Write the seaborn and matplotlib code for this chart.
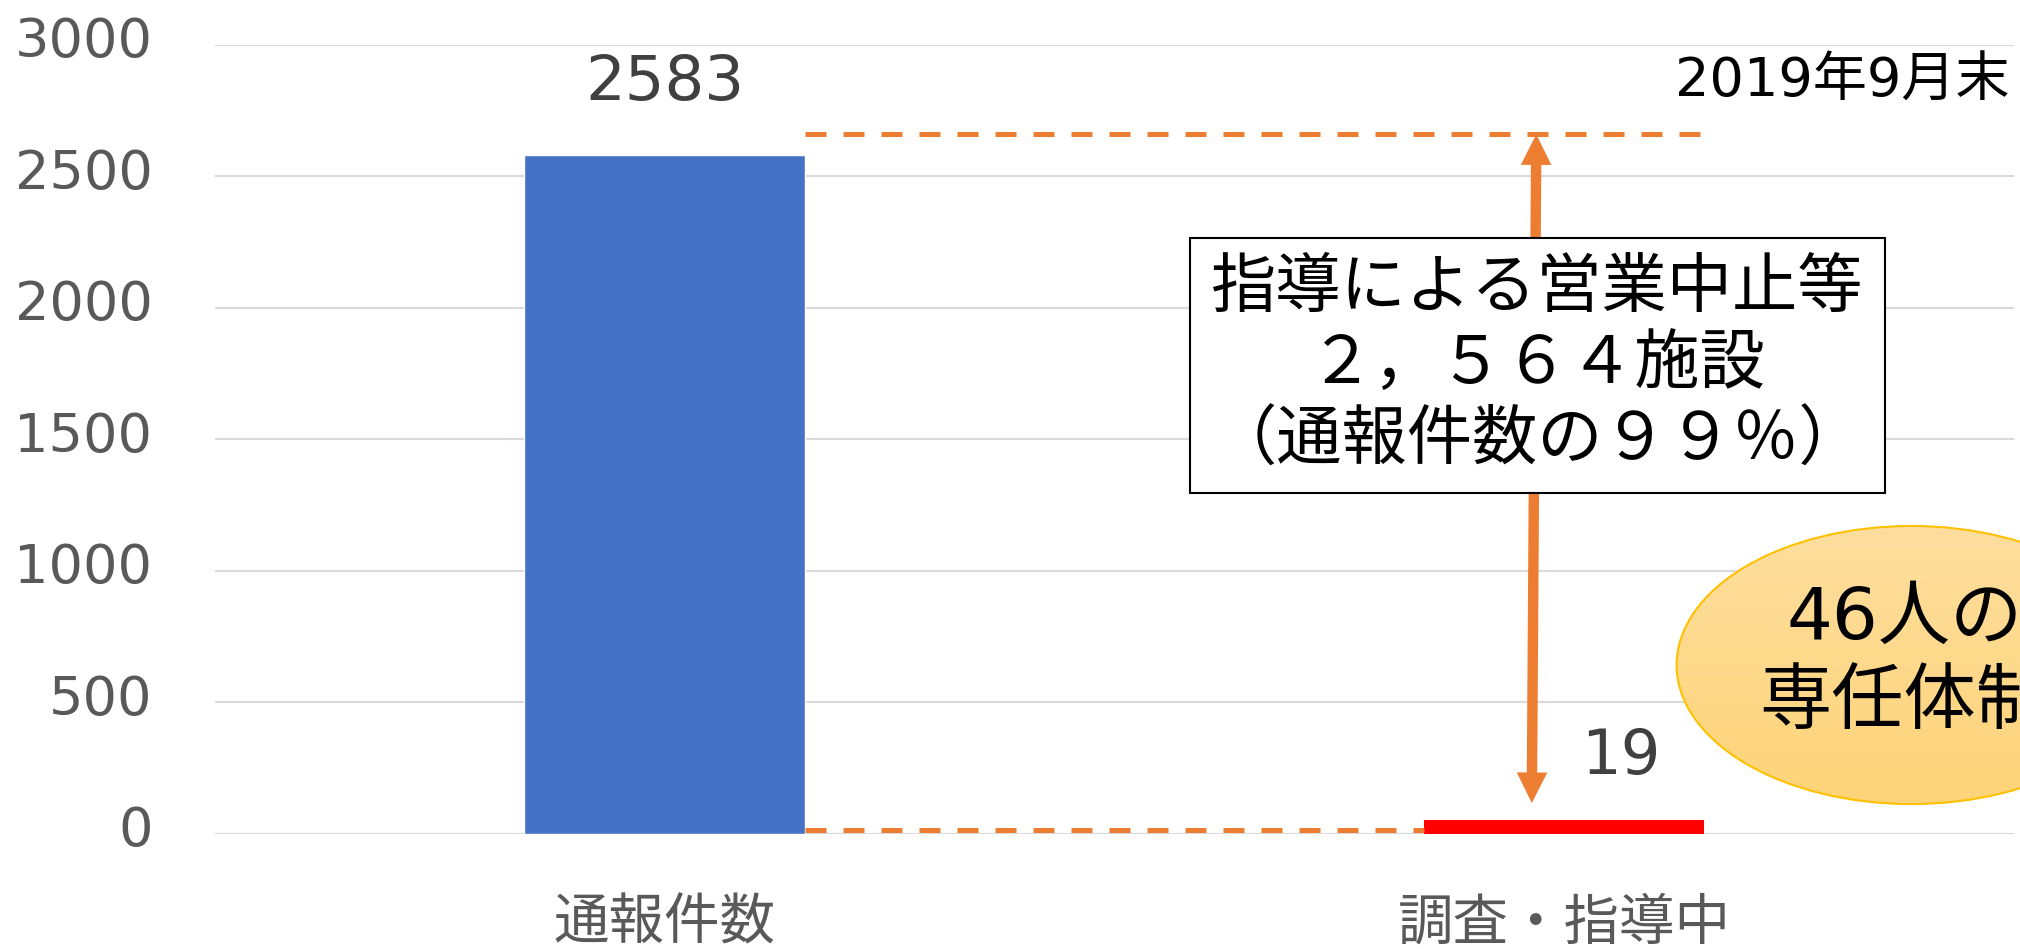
import numpy as np
import matplotlib
matplotlib.use("Agg")
import matplotlib.pyplot as plt
import matplotlib.patches as mpatches
from matplotlib.colors import LinearSegmentedColormap
from matplotlib.transforms import ScaledTranslation
import seaborn as sns

# data
categories = ["通報件数", "調査・指導中"]
counts = [2583, 19]
bar_colors = ["#4472C4", "#FF0000"]
yticks = [0, 500, 1000, 1500, 2000, 2500, 3000]

date_note = "2019年9月末"
box_note = "指導による営業中止等\n２，５６４施設\n（通報件数の９９％）"
bubble_note = "46人の\n専任体制"

sns.set_theme(style="white")
plt.rcParams["font.family"] = ["DejaVu Sans", "Noto Sans CJK JP"]

W, H, DPI = 20.2, 9.49, 100
ax_rect = [0.1064, 0.1217, 0.8906, 0.8309]
fig = plt.figure(figsize=(W, H), dpi=DPI)
ax = fig.add_axes(ax_rect)

bar_w = 0.312
sns.barplot(x=categories, y=counts, hue=categories, palette=bar_colors,
            width=bar_w, saturation=1, legend=False, ax=ax)

# the tiny bar is drawn thicker, like in the original (thick edge, width kept)
edge_lw = 13
edge_px = edge_lw * DPI / 72
px_per_unit = W * DPI * ax_rect[2] / 2.0
for bar in ax.containers[1]:
    d = edge_px / px_per_unit
    bar.set_x(bar.get_x() + d / 2)
    bar.set_width(bar.get_width() - d)
    bar.set_edgecolor("#FF0000")
    bar.set_linewidth(edge_lw)

ax.bar_label(ax.containers[0], padding=30, fontsize=45, color="#404040")
small = ax.bar_label(ax.containers[1], padding=30, fontsize=45, color="#404040")
for t in small:
    t.xyann = (41, t.xyann[1])

ax.set_xlim(-0.5, 1.5)
ax.set_ylim(0, 3000)
ax.set_yticks(yticks)
ax.yaxis.grid(True, color="#D9D9D9", lw=1.5)
ax.set_axisbelow(True)
sns.despine(ax=ax, left=True, bottom=True)
ax.tick_params(axis="y", labelsize=39, labelcolor="#595959", length=0, pad=45)
ax.tick_params(axis="x", labelsize=40, labelcolor="#595959", length=0, pad=46)
ax.set_xlabel("")
ax.set_ylabel("")
for lab in ax.get_yticklabels():
    lab.set_transform(lab.get_transform() + ScaledTranslation(0, 0.08, fig.dpi_scale_trans))

# dashed guide lines
orange = "#ED7D31"
top_level = 2660
ax.plot([bar_w / 2, 1 + bar_w / 2], [top_level, top_level], color=orange,
        lw=3.6, dashes=(4.2, 3.4), zorder=3)
ax.plot([bar_w / 2, 1 - bar_w / 2], [13, 13], color=orange,
        lw=3.6, dashes=(4.2, 3.4), zorder=3)

# double arrow
style = "simple,head_length=22,head_width=22,tail_width=7.5"
mid = (0.9665, 1400)
for end in [(0.969, top_level), (0.964, 116)]:
    ax.add_patch(mpatches.FancyArrowPatch(mid, end, arrowstyle=style, mutation_scale=1,
                                          color=orange, lw=0, shrinkA=0, shrinkB=0, zorder=4))

# text box
ax.add_patch(mpatches.Rectangle((0.584, 1296), 0.773, 970, facecolor="white",
                                edgecolor="black", lw=1.5, zorder=5))
ax.text(0.9705, 1781, box_note, ha="center", va="center", fontsize=47,
        linespacing=1.25, color="black", zorder=6)

# date note
ax.text(1.495, 2860, date_note, ha="right", va="center", fontsize=39, color="black")

# bubble with gradient fill
ell = mpatches.Ellipse((1.386, 641), 0.522, 1058, facecolor="none",
                       edgecolor="#FFC000", lw=1.5, zorder=5, clip_on=False)
ax.add_patch(ell)
grad = np.linspace(0, 1, 256).reshape(-1, 1)
cmap = LinearSegmentedColormap.from_list("bub", ["#FDDE9E", "#FFD479"])
im = ax.imshow(grad, extent=[1.12, 1.65, 110, 1172], origin="upper", cmap=cmap,
               aspect="auto", zorder=4)
im.set_clip_path(ell)
im.set_clip_box(fig.bbox)
ax.text(1.378, 654, bubble_note, ha="center", va="center", fontsize=52,
        linespacing=1.29, color="black", zorder=6)

ax.set_xlim(-0.5, 1.5)
ax.set_ylim(0, 3000)

fig.savefig("out.png", dpi=DPI)
